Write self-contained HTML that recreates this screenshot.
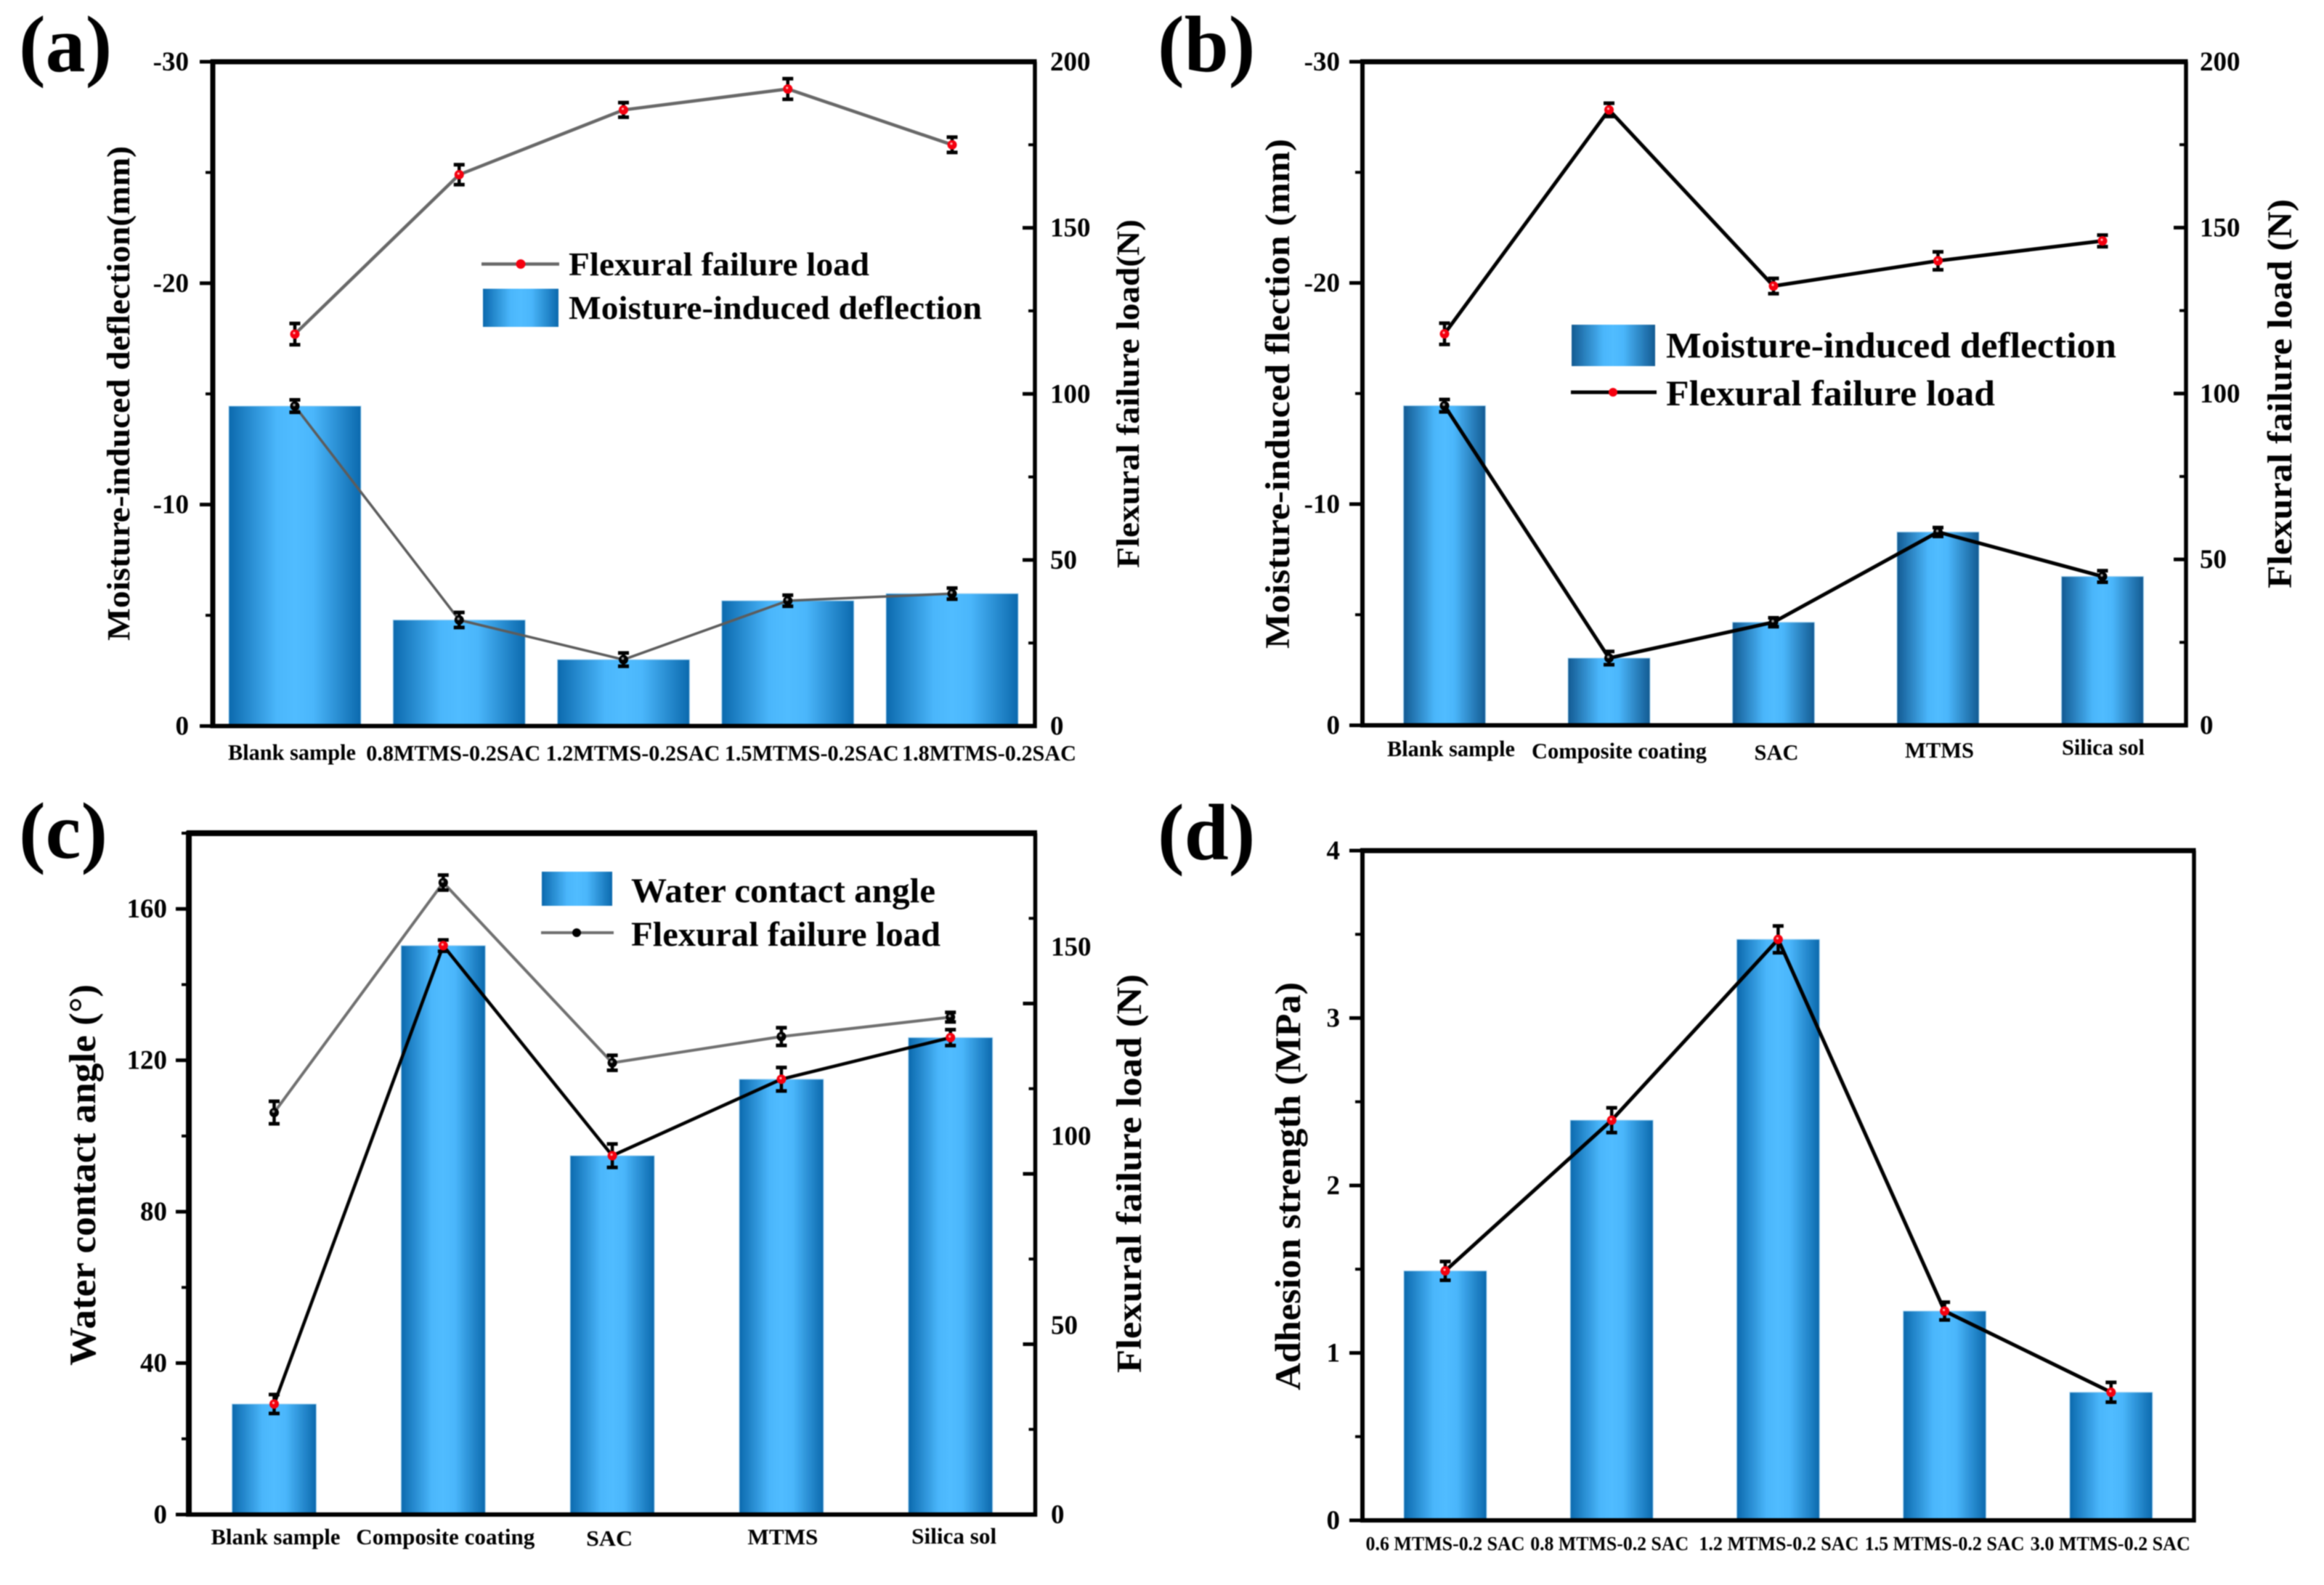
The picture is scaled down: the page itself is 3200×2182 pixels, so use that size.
<!DOCTYPE html>
<html lang="en">
<head>
<meta charset="utf-8">
<title>Moisture deflection, flexural load, contact angle and adhesion charts</title>
<style>
html,body{margin:0;padding:0;background:#fff;}
svg{display:block;filter:blur(0.7px);}
text{font-family:"Liberation Serif",serif;font-weight:bold;fill:#000;}
</style>
</head>
<body>
<svg id="figure" xmlns="http://www.w3.org/2000/svg" width="3200" height="2182" viewBox="0 0 3200 2182">
<defs>
<linearGradient id="gradA" x1="0" x2="1" y1="0" y2="0"><stop offset="0" stop-color="#0b69ad"/><stop offset="0.36" stop-color="#4ab6fb"/><stop offset="0.5" stop-color="#50bcff"/><stop offset="0.64" stop-color="#4ab6fb"/><stop offset="1" stop-color="#0b69ad"/></linearGradient>
<linearGradient id="gradB" x1="0" x2="1" y1="0" y2="0"><stop offset="0" stop-color="#125a92"/><stop offset="0.38" stop-color="#4ab6fb"/><stop offset="0.5" stop-color="#50bcff"/><stop offset="0.62" stop-color="#4ab6fb"/><stop offset="1" stop-color="#125a92"/></linearGradient>
</defs>
<rect x="0" y="0" width="3200" height="2182" fill="#fff"/>
</svg>
<script>
// ---------- Panel (a) data ----------
const aCategories = ['Blank sample','0.8MTMS-0.2SAC','1.2MTMS-0.2SAC','1.5MTMS-0.2SAC','1.8MTMS-0.2SAC'];
const aDeflection = [-14.45,-4.79,-3.0,-5.66,-5.98];
const aDeflectionErr = [0.28,0.34,0.3,0.25,0.25];
const aLoad = [118,166,185.5,191.8,175];
const aLoadErr = [3.2,3,2.2,3.1,2.3];
const aLeftTicks = [0,-10,-20,-30];
const aLeftMinor = [-5,-15,-25];
const aRightTicks = [0,50,100,150,200];
const aRightMinor = [25,75,125,175];

// ---------- Panel (b) data ----------
const bCategories = ['Blank sample','Composite coating','SAC','MTMS','Silica sol'];
const bDeflection = [-14.45,-3.04,-4.66,-8.74,-6.73];
const bDeflectionErr = [0.28,0.3,0.2,0.2,0.26];
const bLoad = [118,185.5,132.4,140,146];
const bLoadErr = [3.2,2,2.3,2.7,1.75];
const bLeftTicks = [0,-10,-20,-30];
const bLeftMinor = [-5,-15,-25];
const bRightTicks = [0,50,100,150,200];
const bRightMinor = [25,75,125,175];

// ---------- Panel (c) data ----------
const cCategories = ['Blank sample','Composite coating','SAC','MTMS','Silica sol'];
const cAngle = [29.2,150.3,94.8,115,126];
const cAngleErr = [2.5,1.5,3.1,3.1,2.1];
const cLoad = [118,185.5,132.6,140.3,146];
const cLoadErr = [3.3,2.2,2.2,2.6,1.4];
const cLeftTicks = [0,40,80,120,160];
const cLeftMinor = [20,60,100,140,180];
const cRightTicks = [0,50,100,150];
const cRightMinor = [25,75,125,175];

// ---------- Panel (d) data ----------
const dCategories = ['0.6 MTMS-0.2 SAC','0.8 MTMS-0.2 SAC','1.2 MTMS-0.2 SAC','1.5 MTMS-0.2 SAC','3.0 MTMS-0.2 SAC'];
const dStrength = [1.49,2.39,3.47,1.25,0.765];
const dStrengthErr = [0.056,0.074,0.08,0.053,0.059];
const dLeftTicks = [0,1,2,3,4];
const dLeftMinor = [0.5,1.5,2.5,3.5];

// ---------- Drawing helpers ----------
const NS = 'http://www.w3.org/2000/svg';
const root = document.getElementById('figure');

function make(tag, parent, name, attrs, interact) {
  const el = document.createElementNS(NS, tag);
  
  
  for (const k in attrs) el.setAttribute(k, attrs[k]);
  parent.appendChild(el);
  return el;
}
function group(parent, name) { return make('g', parent, name, {}); }
function line(parent, name, x1, y1, x2, y2, w, color) {
  return make('line', parent, name, {x1:x1, y1:y1, x2:x2, y2:y2, stroke:color || '#000', 'stroke-width':w, 'stroke-linecap':'butt'});
}
function label(parent, name, str, x, y, size, opts) {
  opts = opts || {};
  const a = {x:x, y:y, 'font-size':size};
  if (opts.anchor) a['text-anchor'] = opts.anchor;
  if (opts.len) { a.textLength = opts.len; a.lengthAdjust = 'spacingAndGlyphs'; }
  if (opts.rotate) a.transform = 'rotate(-90 ' + x + ' ' + y + ')';
  const t = make('text', parent, name, a);
  t.textContent = str;
  return t;
}
function linearScale(d0, d1, r0, r1) {
  return function (v) { return r0 + (v - d0) * (r1 - r0) / (d1 - d0); };
}
function bandCenter(first, step) {
  return function (i) { return first + i * step; };
}

function drawFrame(g, f) {
  line(g, 'plot-top-border', f.left - 3, f.top, f.right + 2.5, f.top, f.tw);
  line(g, 'plot-right-border', f.right, f.top, f.right, f.bottom + 3, 5.5);
  line(g, 'left-axis', f.left, f.top - 3, f.left, f.bottom + 3, f.lw);
  line(g, 'bottom-axis', f.left - 3, f.bottom, f.right + 2.5, f.bottom, 6);
}
function drawLeftAxis(g, f, y, majors, minors, labelFn) {
  majors.forEach(function (v) {
    line(g, 'left-major-tick', f.left - 18, y(v), f.left, y(v), 5);
    label(g, 'left-tick-label', labelFn ? labelFn(v) : String(v), f.leftLabelX, y(v) + 12, 37, {anchor:'end'});
  });
  minors.forEach(function (v) {
    line(g, 'left-minor-tick', f.left - 10, y(v), f.left, y(v), 4);
  });
}
function drawRightAxis(g, f, y, labelY, majors, minors) {
  majors.forEach(function (v) {
    line(g, 'right-major-tick', f.right - 17, y(v), f.right, y(v), 5);
    label(g, 'right-tick-label', String(v), f.rightLabelX, labelY(v) + 12, 37);
  });
  minors.forEach(function (v) {
    line(g, 'right-minor-tick', f.right - 9, y(v), f.right, y(v), 4);
  });
}
function drawBars(g, x, y, values, width, fill, base) {
  values.forEach(function (v, i) {
    make('rect', g, 'bar-' + (i + 1), {
      x: x(i) - width / 2, y: y(v), width: width, height: y(base) - y(v),
      fill: 'url(#' + fill + ')', stroke: '#a9d6f2', 'stroke-width': 1
    });
  });
}
function drawSeries(g, name, x, y, values, errs, color, width, marker) {
  const pts = values.map(function (v, i) { return x(i) + ',' + y(v); }).join(' ');
  make('polyline', g, name + '-line', {points:pts, fill:'none', stroke:color, 'stroke-width':width, 'stroke-linejoin':'round'});
  values.forEach(function (v, i) {
    const hi = y(v + errs[i]);
    const lo = y(v - errs[i]);
    const cx = x(i);
    line(g, name + '-error-bar', cx, hi, cx, lo, 4.5);
    line(g, name + '-error-cap-top', cx - 7.5, hi, cx + 7.5, hi, 5);
    line(g, name + '-error-cap-bottom', cx - 7.5, lo, cx + 7.5, lo, 5);
    if (marker === 'red') {
      make('circle', g, name + '-point', {cx:cx, cy:y(v), r:6.5, fill:'#f5000f'});
      make('circle', g, name + '-point-highlight', {cx:cx - 1, cy:y(v) - 1.5, r:1.6, fill:'#ffb0b0'});
    } else {
      make('circle', g, name + '-point', {cx:cx, cy:y(v), r:6.5, fill:'#000'});
      make('circle', g, name + '-point-highlight', {cx:cx - 1, cy:y(v) - 1.5, r:1.8, fill:'#9a9a9a'});
    }
  });
}
function drawCategoryLabels(g, x, cats, f) {
  cats.forEach(function (c, i) {
    label(g, 'x-tick-label', c, x(i) + f.labelDx[i], f.labelY[i], f.labelSize, {anchor:'middle', len:f.labelLen[i]});
  });
}

// ---------- Panel (a) ----------
(function () {
  const g = group(root, 'panel-a');
  const f = {left:293, right:1425, top:85, bottom:999.5, tw:7, lw:7, leftLabelX:260, rightLabelX:1446,
    labelDx:[-4,-8,13,33,51], labelY:[1046,1047,1047,1047,1047], labelSize:31, labelLen:[176,240,240,240,240]};
  const x = bandCenter(406, 226.25);
  const yL = linearScale(0, -30, f.bottom, f.top);
  const yR = linearScale(0, 200, f.bottom, f.top);
  drawBars(group(g, 'deflection-bars'), x, yL, aDeflection, 182, 'gradA', 0);
  drawFrame(group(g, 'plot-frame'), f);
  const ax = group(g, 'axes');
  drawLeftAxis(ax, f, yL, aLeftTicks, aLeftMinor);
  drawRightAxis(ax, f, yR, yR, aRightTicks, aRightMinor);
  drawCategoryLabels(group(g, 'x-tick-labels'), x, aCategories, f);
  drawSeries(group(g, 'load-series'), 'flexural-load', x, yR, aLoad, aLoadErr, '#686868', 4.5, 'red');
  drawSeries(group(g, 'deflection-series'), 'deflection', x, yL, aDeflection, aDeflectionErr, '#5c5c5c', 3.5, 'black');
  label(g, 'panel-label', '(a)', 26, 98, 110);
  label(g, 'y-axis-title-left', 'Moisture-induced deflection(mm)', 178, 882, 44, {rotate:true, len:681});
  label(g, 'y-axis-title-right', 'Flexural failure load(N)', 1568, 782, 44, {rotate:true, len:480});
  const lg = group(g, 'legend');
  line(lg, 'legend-line-load', 663, 363.5, 770, 363.5, 4.5, '#686868');
  make('circle', lg, 'legend-marker-load', {cx:717, cy:363.5, r:6.5, fill:'#f5000f'});
  label(lg, 'legend-text-load', 'Flexural failure load', 783, 379, 46, {len:414});
  make('rect', lg, 'legend-swatch-deflection', {x:665, y:397.5, width:104, height:52.5, fill:'url(#gradA)'});
  label(lg, 'legend-text-deflection', 'Moisture-induced deflection', 783, 439, 46, {len:569});
})();

// ---------- Panel (b) ----------
(function () {
  const g = group(root, 'panel-b');
  const f = {left:1876, right:3010, top:85, bottom:998.5, tw:7, lw:6, leftLabelX:1845, rightLabelX:3029,
    labelDx:[9,14,4,2,1], labelY:[1041,1044,1046,1043,1039], labelSize:31, labelLen:[176,241,61,95,114]};
  const x = bandCenter(1989, 226.5);
  const yL = linearScale(0, -30, f.bottom, f.top);
  const yR = linearScale(0, 200, f.bottom, f.top);
  drawBars(group(g, 'deflection-bars'), x, yL, bDeflection, 113, 'gradB', 0);
  drawFrame(group(g, 'plot-frame'), f);
  const ax = group(g, 'axes');
  drawLeftAxis(ax, f, yL, bLeftTicks, bLeftMinor);
  drawRightAxis(ax, f, yR, yR, bRightTicks, bRightMinor);
  drawCategoryLabels(group(g, 'x-tick-labels'), x, bCategories, f);
  drawSeries(group(g, 'load-series'), 'flexural-load', x, yR, bLoad, bLoadErr, '#000', 5, 'red');
  drawSeries(group(g, 'deflection-series'), 'deflection', x, yL, bDeflection, bDeflectionErr, '#000', 5, 'black');
  label(g, 'panel-label', '(b)', 1594, 98, 110);
  label(g, 'y-axis-title-left', 'Moisture-induced flection (mm)', 1775, 893, 48, {rotate:true, len:702});
  label(g, 'y-axis-title-right', 'Flexural failure load (N)', 3155, 810, 48, {rotate:true, len:536});
  const lg = group(g, 'legend');
  make('rect', lg, 'legend-swatch-deflection', {x:2164, y:447, width:115, height:57, fill:'url(#gradB)'});
  label(lg, 'legend-text-deflection', 'Moisture-induced deflection', 2294, 492, 50, {len:620});
  line(lg, 'legend-line-load', 2163, 540, 2281, 540, 5);
  make('circle', lg, 'legend-marker-load', {cx:2221, cy:540, r:6, fill:'#f5000f'});
  label(lg, 'legend-text-load', 'Flexural failure load', 2294, 558, 50, {len:453});
})();

// ---------- Panel (c) ----------
(function () {
  const g = group(root, 'panel-c');
  const f = {left:260, right:1425.5, top:1147, bottom:2085, tw:8, lw:8, leftLabelX:230, rightLabelX:1447,
    labelDx:[2,3,-4,2,5], labelY:[2126,2126,2128,2126,2125], labelSize:31, labelLen:[178,246,64,97,117]};
  const x = bandCenter(377.5, 232.8);
  const yL = linearScale(0, 180, f.bottom, f.top);
  const yR = linearScale(0, 200, f.bottom, f.top);
  drawBars(group(g, 'contact-angle-bars'), x, yL, cAngle, 116, 'gradA', 0);
  drawFrame(group(g, 'plot-frame'), f);
  const ax = group(g, 'axes');
  drawLeftAxis(ax, f, yL, cLeftTicks, cLeftMinor);
  drawRightAxis(ax, f, yR, yL, cRightTicks, cRightMinor);
  drawCategoryLabels(group(g, 'x-tick-labels'), x, cCategories, f);
  drawSeries(group(g, 'load-series'), 'flexural-load', x, yR, cLoad, cLoadErr, '#707070', 4, 'black');
  drawSeries(group(g, 'angle-series'), 'contact-angle', x, yL, cAngle, cAngleErr, '#000', 4.5, 'red');
  label(g, 'panel-label', '(c)', 26, 1181, 110);
  label(g, 'y-axis-title-left', 'Water contact angle (°)', 131, 1880, 52, {rotate:true, len:525});
  label(g, 'y-axis-title-right', 'Flexural failure load (N)', 1571, 1890, 49, {rotate:true, len:549});
  const lg = group(g, 'legend');
  make('rect', lg, 'legend-swatch-angle', {x:746, y:1200, width:97, height:47, fill:'url(#gradA)'});
  label(lg, 'legend-text-angle', 'Water contact angle', 869, 1242, 48, {len:419});
  line(lg, 'legend-line-load', 745, 1284, 845, 1284, 4, '#707070');
  make('circle', lg, 'legend-marker-load', {cx:794, cy:1284, r:6, fill:'#000'});
  label(lg, 'legend-text-load', 'Flexural failure load', 869, 1302, 48, {len:426});
})();

// ---------- Panel (d) ----------
(function () {
  const g = group(root, 'panel-d');
  const f = {left:1876, right:3021, top:1171, bottom:2093, tw:7, lw:6, leftLabelX:1845,
    labelDx:[0,-3,1,0,-1], labelY:[2134,2134,2134,2134,2134], labelSize:27, labelLen:[219,218,220,220,220]};
  const x = bandCenter(1990, 229.2);
  const y = linearScale(0, 4, f.bottom, f.top);
  drawBars(group(g, 'adhesion-bars'), x, y, dStrength, 114, 'gradA', 0);
  drawFrame(group(g, 'plot-frame'), f);
  const ax = group(g, 'axes');
  drawLeftAxis(ax, f, y, dLeftTicks, dLeftMinor);
  drawCategoryLabels(group(g, 'x-tick-labels'), x, dCategories, f);
  drawSeries(group(g, 'adhesion-series'), 'adhesion-strength', x, y, dStrength, dStrengthErr, '#000', 5, 'red');
  label(g, 'panel-label', '(d)', 1594, 1183, 110);
  label(g, 'y-axis-title-left', 'Adhesion strength (MPa)', 1790, 1914, 50, {rotate:true, len:562});
})();
</script>
</body>
</html>
